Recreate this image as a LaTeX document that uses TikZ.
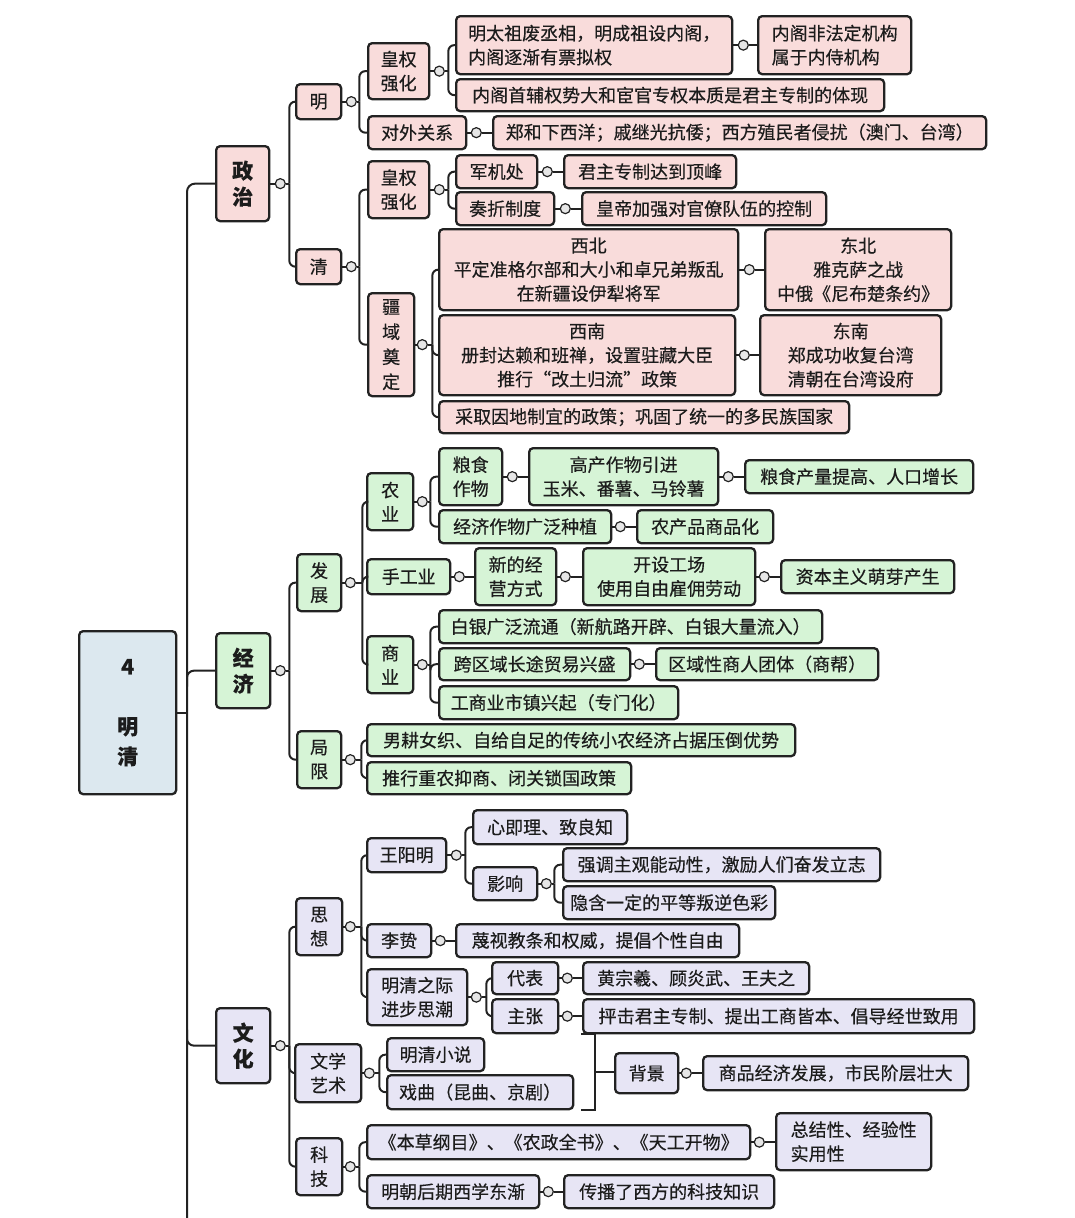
\documentclass[tikz,border=0pt]{standalone}
\usepackage{fontspec}
\setmainfont{Noto Sans CJK SC}[FakeBold=0.35]
\definecolor{pk}{HTML}{F9DCDB}
\definecolor{gn}{HTML}{D6F4D6}
\definecolor{lv}{HTML}{E7E5F5}
\definecolor{rt}{HTML}{DCE8EF}
\definecolor{ln}{HTML}{222222}
\definecolor{txt}{HTML}{1C1C1C}
\definecolor{hubf}{HTML}{E6E6E6}
\newcommand\bx[7]{\node[#2,anchor=north west,minimum width={#5-#3},minimum height={#6-#4}] (#1) at (#3,#4) {#7};}
\newcommand\fan[4]{%
  \path (#1.east) ++(#2,0) node[hubc] (#1-h) {};
  \path (#1-h.center) ++(#3,0) coordinate (#1-v);
  \draw[conn] (#1.east) -- (#1-h.west);
  \draw[conn] (#1-h.east) -- (#1-v);
  \foreach \ch in {#4} {\draw[conn,rounded corners=6pt] (#1-v) |- (\ch.west);}
}
\newcommand\lnk[3]{%
  \path (#1.east) ++(#3,0) node[hubc] (#1-h) {};
  \draw[conn] (#1.east) -- (#1-h.west);
  \draw[conn] (#1-h.east) -- (#1-h.east -| #2.west);
}
\begin{document}
\begin{tikzpicture}[x=1pt,y=-1pt,
 box/.style={draw=ln,line width=2.3pt,rounded corners=4pt,inner sep=0pt,align=center,text=txt,font=\fontsize{18}{24}\selectfont},
 pol/.style={box,fill=pk}, eco/.style={box,fill=gn}, cul/.style={box,fill=lv},
 big/.style={font=\bfseries\fontsize{21}{26}\selectfont},
 conn/.style={draw=ln,line width=2pt},
 hubc/.style={circle,draw=ln,fill=hubf,line width=1.2pt,minimum size=10pt,inner sep=0pt}]
\useasboundingbox (0,0) rectangle (1074,1218);
% root
\bx{root}{box,fill=rt,font=\bfseries\fontsize{21}{30}\selectfont}{78}{630}{175}{793}{4\\[30pt]明\\清}
% politics
\bx{zz}{pol,big}{215}{145}{268}{220}{政\\治}
\bx{ming}{pol}{295}{83}{340}{118}{明}
\bx{qing}{pol}{295}{248}{340}{283}{清}
\bx{mhq}{pol}{367}{42}{428}{98}{皇权\\强化}
\bx{mdw}{pol}{367}{115}{465}{148}{对外关系}
\bx{m1}{pol,align=left}{455}{15}{731}{73}{明太祖废丞相，明成祖设内阁，\\内阁逐渐有票拟权}
\bx{m1a}{pol,align=left}{757}{15}{910}{73}{内阁非法定机构\\属于内侍机构}
\bx{m2}{pol}{455}{78}{883}{110}{内阁首辅权势大和宦官专权本质是君主专制的体现}
\bx{mdw1}{pol}{492}{115}{985}{148}{郑和下西洋；戚继光抗倭；西方殖民者侵扰（澳门、台湾）}
\bx{qhq}{pol}{367}{160}{428}{217}{皇权\\强化}
\bx{jjc}{pol}{455}{154}{536}{187}{军机处}
\bx{jjc1}{pol}{563}{154}{735}{187}{君主专制达到顶峰}
\bx{zzz}{pol}{455}{191}{553}{224}{奏折制度}
\bx{zzz1}{pol}{581}{191}{825}{224}{皇帝加强对官僚队伍的控制}
\bx{jy}{pol,font=\fontsize{18}{25}\selectfont}{367}{292}{413}{395}{疆\\域\\奠\\定}
\bx{xb}{pol}{438}{228}{737}{309}{西北\\平定准格尔部和大小和卓兄弟叛乱\\在新疆设伊犁将军}
\bx{db}{pol}{764}{228}{950}{309}{东北\\雅克萨之战\\中俄《尼布楚条约》}
\bx{xn}{pol}{438}{314}{734}{394}{西南\\册封达赖和班禅，设置驻藏大臣\\推行“改土归流”政策}
\bx{dn}{pol}{759}{314}{940}{394}{东南\\郑成功收复台湾\\清朝在台湾设府}
\bx{cq}{pol}{438}{400}{848}{432}{采取因地制宜的政策；巩固了统一的多民族国家}
% economy
\bx{jj}{eco,big}{215}{632}{269}{707}{经\\济}
\bx{fz}{eco}{296}{553}{340}{610}{发\\展}
\bx{jx}{eco}{296}{730}{340}{787}{局\\限}
\bx{ny}{eco}{366}{472}{412}{529}{农\\业}
\bx{sgy}{eco}{366}{558}{449}{593}{手工业}
\bx{sy}{eco}{366}{635}{412}{692}{商\\业}
\bx{lszw}{eco}{438}{447}{501}{504}{粮食\\作物}
\bx{gc}{eco}{528}{447}{717}{504}{高产作物引进\\玉米、番薯、马铃薯}
\bx{lscl}{eco}{744}{459}{972}{492}{粮食产量提高、人口增长}
\bx{jjzw}{eco}{438}{509}{610}{542}{经济作物广泛种植}
\bx{ncp}{eco}{636}{509}{772}{542}{农产品商品化}
\bx{xd}{eco}{474}{547}{555}{604}{新的经\\营方式}
\bx{ks}{eco}{582}{547}{754}{604}{开设工场\\使用自由雇佣劳动}
\bx{zb}{eco}{780}{559}{953}{592}{资本主义萌芽产生}
\bx{by}{eco}{438}{609}{821}{642}{白银广泛流通（新航路开辟、白银大量流入）}
\bx{kq}{eco}{438}{647}{629}{679}{跨区域长途贸易兴盛}
\bx{qy}{eco}{655}{647}{877}{679}{区域性商人团体（商帮）}
\bx{gs}{eco}{438}{685}{677}{718}{工商业市镇兴起（专门化）}
\bx{ng}{eco}{366}{723}{794}{755}{男耕女织、自给自足的传统小农经济占据压倒优势}
\bx{tx}{eco}{366}{761}{630}{793}{推行重农抑商、闭关锁国政策}
% culture
\bx{wh}{cul,big}{215}{1007}{269}{1082}{文\\化}
\bx{sx}{cul}{295}{897}{341}{954}{思\\想}
\bx{wx}{cul}{294}{1043}{360}{1101}{文学\\艺术}
\bx{kj}{cul}{295}{1137}{341}{1194}{科\\技}
\bx{wym}{cul}{366}{837}{445}{871}{王阳明}
\bx{lz}{cul}{366}{923}{430}{956}{李贽}
\bx{mq}{cul}{366}{968}{466}{1024}{明清之际\\进步思潮}
\bx{xjl}{cul}{472}{809}{626}{843}{心即理、致良知}
\bx{yx}{cul}{472}{866}{536}{899}{影响}
\bx{qd}{cul}{562}{847}{879}{880}{强调主观能动性，激励人们奋发立志}
\bx{yh}{cul}{562}{885}{774}{918}{隐含一定的平等叛逆色彩}
\bx{mx}{cul}{455}{923}{738}{956}{蔑视教条和权威，提倡个性自由}
\bx{db2}{cul}{491}{961}{557}{993}{代表}
\bx{hz}{cul}{582}{961}{808}{993}{黄宗羲、顾炎武、王夫之}
\bx{zz2}{cul}{491}{998}{557}{1032}{主张}
\bx{pj}{cul}{582}{998}{973}{1032}{抨击君主专制、提出工商皆本、倡导经世致用}
\bx{mqxs}{cul}{386}{1037}{483}{1070}{明清小说}
\bx{xq}{cul}{386}{1074}{572}{1108}{戏曲（昆曲、京剧）}
\bx{bj}{cul}{614}{1052}{677}{1092}{背景}
\bx{sp}{cul}{702}{1055}{967}{1089}{商品经济发展，市民阶层壮大}
\bx{bc}{cul}{366}{1124}{749}{1158}{《本草纲目》、《农政全书》、《天工开物》}
\bx{zj}{cul,align=left}{775}{1112}{930}{1169}{总结性、经验性\\实用性}
\bx{xx}{cul}{366}{1174}{538}{1207}{明朝后期西学东渐}
\bx{cb}{cul}{563}{1174}{773}{1207}{传播了西方的科技知识}
% trunk
\coordinate (trunkbot) at (187,1218);
\draw[conn,rounded corners=8pt] (zz.west) -| (trunkbot);
\draw[conn] (root.east) -- (root.east -| trunkbot);
\draw[conn,rounded corners=7pt] ([yshift=-16pt]jj.west -| trunkbot) |- (jj.west);
\draw[conn,rounded corners=7pt] ([yshift=16pt]wh.west -| trunkbot) |- (wh.west);
% fans
\fan{zz}{10}{9}{ming,qing}
\fan{ming}{9}{8}{mhq,mdw}
\fan{mhq}{9}{9}{m1,m2}
\fan{qing}{9}{8}{qhq,jy}
\fan{qhq}{9}{9}{jjc,zzz}
\fan{jy}{7}{10}{xb,xn,cq}
\fan{jj}{9}{9}{fz,jx}
\fan{fz}{8}{12}{ny,sgy,sy}
\fan{ny}{8}{8}{lszw,jjzw}
\fan{sy}{8}{8}{by,kq,gs}
\fan{jx}{8}{11}{ng,tx}
\fan{wh}{9}{9}{sx,wx,kj}
\fan{sx}{7}{11}{wym,lz,mq}
\fan{wym}{9}{9}{xjl,yx}
\fan{yx}{8}{8}{qd,yh}
\fan{mq}{8}{10}{db2,zz2}
\fan{wx}{7}{10}{mqxs,xq}
\fan{kj}{7}{9}{bc,xx}
% links
\lnk{m1}{m1a}{10}
\lnk{mdw}{mdw1}{9}
\lnk{jjc}{jjc1}{9}
\lnk{zzz}{zzz1}{10}
\lnk{xb}{db}{10}
\lnk{xn}{dn}{8}
\lnk{lszw}{gc}{9}
\lnk{gc}{lscl}{9}
\lnk{jjzw}{ncp}{8}
\lnk{sgy}{xd}{8}
\lnk{xd}{ks}{8}
\lnk{ks}{zb}{8}
\lnk{kq}{qy}{8}
\lnk{lz}{mx}{8}
\lnk{db2}{hz}{8}
\lnk{zz2}{pj}{8}
\lnk{bj}{sp}{7}
\lnk{bc}{zj}{8}
\lnk{xx}{cb}{8}
% bracket
\coordinate (brt) at (581,1034);
\coordinate (brb) at (581,1110);
\coordinate (brk) at (595,1072);
\draw[conn] (brt) -- (brt -| brk) -- (brb -| brk) -- (brb);
\draw[conn] (brk) -- (brk -| bj.west);
\end{tikzpicture}
\end{document}
